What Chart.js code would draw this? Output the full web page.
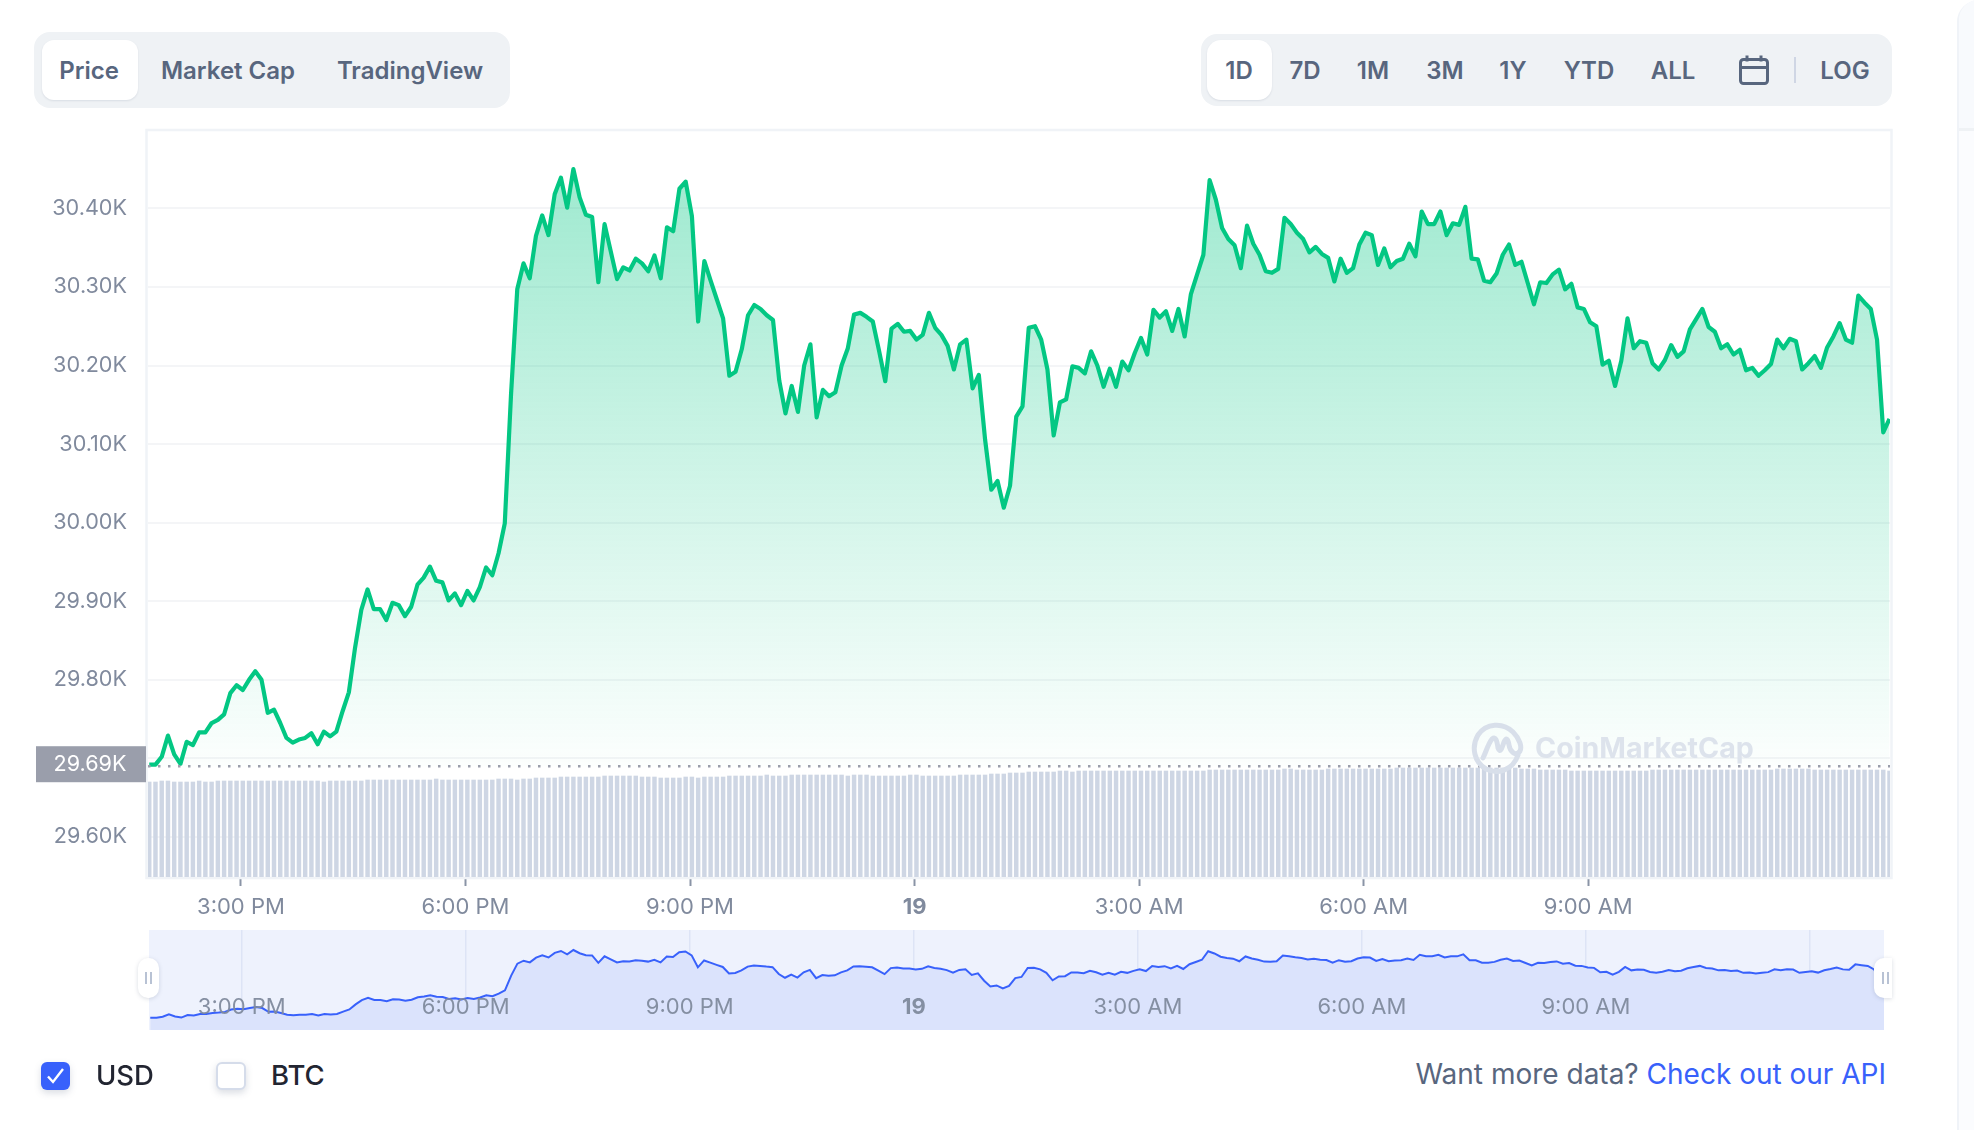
<!DOCTYPE html>
<html>
<head>
<meta charset="utf-8">
<title>Price chart</title>
<script src="https://cdn.jsdelivr.net/npm/chart.js@4.5.0/dist/chart.umd.min.js"></script>
<style>
  html, body { margin: 0; padding: 0; background: #fff; }
  body { width: 1974px; height: 1130px; position: relative; overflow: hidden; font-family: Inter, sans-serif; color: #58667e; }
  canvas { position: absolute; left: 0; display: block; }
  .abs { position: absolute; }
  .tabs { background: #eff2f5; }
  .on { background: #fff; box-shadow: 0 1px 2px rgba(88,102,126,.14); }
  .tab { position: absolute; top: 70px; transform: translate(-50%, -50%); font-size: 24px; font-weight: 600; white-space: nowrap; }
  .range { font-size: 24px; font-weight: 600; }
  .lbl { position: absolute; top: 1075px; transform: translateY(-50%); font-size: 27px; font-weight: 500; color: #222531; }
  .box { position: absolute; border-radius: 6px; box-sizing: border-box; box-shadow: 0 3px 7px rgba(88,102,126,.22); }
  .grip { position: absolute; top: 958px; height: 40px; background: #fff; box-shadow: 0 1px 4px rgba(88,102,126,.22); }
  .grip i { position: absolute; top: 14px; width: 2px; height: 12px; background: #b8c2d4; }
</style>
</head>
<body>
<div class="abs tabs" style="left:34px;top:32px;width:476px;height:76px;border-radius:16px"></div>
<div class="abs on" style="left:42px;top:40px;width:96px;height:60px;border-radius:12px"></div>
<span class="tab" style="left:89px">Price</span>
<span class="tab" style="left:228px">Market Cap</span>
<span class="tab" style="left:410px">TradingView</span>

<div class="abs tabs" style="left:1201px;top:34px;width:691px;height:72px;border-radius:16px"></div>
<div class="abs on" style="left:1207px;top:40px;width:65px;height:60px;border-radius:14px"></div>
<span class="tab range" style="left:1239px">1D</span>
<span class="tab range" style="left:1305px">7D</span>
<span class="tab range" style="left:1373px">1M</span>
<span class="tab range" style="left:1445px">3M</span>
<span class="tab range" style="left:1513px">1Y</span>
<span class="tab range" style="left:1589px">YTD</span>
<span class="tab range" style="left:1673px">ALL</span>
<svg class="abs" style="left:1738px;top:54px" width="32" height="32" viewBox="0 0 32 32" fill="none" stroke="#58667e" stroke-width="3">
  <rect x="2.5" y="5.5" width="27" height="24" rx="3"/><path d="M2.5 13.5h27M9 1.5v6M23 1.5v6"/>
</svg>
<div class="abs" style="left:1794px;top:57px;width:2px;height:26px;background:#cfd6e4"></div>
<span class="tab range" style="left:1845px">LOG</span>

<div class="abs" style="left:1957px;top:0;width:40px;height:1130px;background:#fbfcfe;border-left:2px solid #f0f3f8;border-radius:22px 0 0 0;box-sizing:border-box"></div>
<div class="abs" style="left:1959px;top:0;width:20px;height:128px;background:#f8fafd;border-bottom:3px solid #eff2f5;border-radius:22px 0 0 0"></div>

<canvas id="priceChart" width="1974" height="925" style="top:0"></canvas>
<canvas id="navChart" width="1974" height="110" style="top:925px"></canvas>

<svg class="abs" style="left:1470px;top:720px" width="56" height="56" viewBox="0 0 56 56" fill="none" stroke="#d8dfea" stroke-width="5" stroke-linecap="round" stroke-linejoin="round">
  <path d="M48 35C43 50 28 55 16 49C4 42 1 27 8 15C16 3 33 2 43 12C50 19 52 27 50 31C46 37 40 32 39 25C38 19 36 17 34 22C32 28 30 34 28 28C27 21 26 16 22 19C18 24 16 32 13 38"/>
</svg>
<span class="abs" style="left:1535px;top:747px;transform:translateY(-50%);font-size:28.6px;font-weight:700;color:#dde3ec;white-space:nowrap">CoinMarketCap</span>

<div class="grip" style="left:138px;width:21px;border-radius:10px"><i style="left:7px"></i><i style="left:12px"></i></div>
<div class="grip" style="left:1874px;width:18px;border-radius:10px 0 0 10px"><i style="left:8px"></i><i style="left:13px"></i></div>

<div class="box" style="left:41px;top:1062px;width:29px;height:28px;background:#3861fb">
  <svg width="29" height="28" viewBox="0 0 29 28" fill="none" stroke="#fff" stroke-width="2.4"><path d="M7 14.5l5 5.5 10-13"/></svg>
</div>
<span class="lbl" style="left:96px;font-size:27.5px">USD</span>
<div class="box" style="left:216px;top:1062px;width:30px;height:28px;background:#fff;border:2px solid #d5dcea"></div>
<span class="lbl" style="left:271px;font-size:27.5px">BTC</span>
<span class="abs" style="right:88px;top:1074px;transform:translateY(-50%);font-size:28px;white-space:nowrap">Want more data? <span style="color:#3861fb">Check out our API</span></span>

<script>
const prices = [
  29692,29692,29702,29729,29705,29693,29721,29717,29733,29733,
  29745,29749,29756,29783,29793,29787,29800,29811,29800,29758,
  29762,29745,29726,29720,29724,29726,29732,29718,29734,29728,
  29734,29760,29784,29841,29889,29915,29890,29890,29876,29898,
  29895,29881,29893,29921,29930,29944,29926,29924,29901,29910,
  29895,29913,29901,29918,29943,29933,29961,29999,30163,30297,
  30330,30311,30365,30391,30366,30418,30439,30401,30450,30414,
  30392,30389,30306,30380,30345,30310,30325,30321,30336,30330,
  30320,30340,30311,30376,30371,30425,30434,30390,30256,30333,
  30308,30284,30260,30187,30192,30221,30264,30277,30272,30264,
  30258,30181,30139,30174,30141,30200,30227,30134,30169,30161,
  30166,30200,30222,30265,30267,30262,30256,30219,30180,30247,
  30253,30243,30244,30233,30239,30267,30248,30239,30225,30195,
  30227,30233,30171,30188,30106,30042,30053,30019,30047,30135,
  30148,30248,30250,30233,30195,30111,30153,30157,30199,30197,
  30190,30218,30200,30173,30196,30173,30205,30194,30216,30235,
  30214,30271,30261,30269,30244,30272,30237,30291,30316,30341,
  30436,30411,30375,30361,30353,30324,30378,30355,30341,30320,
  30318,30323,30388,30380,30369,30361,30344,30351,30342,30337,
  30307,30336,30318,30324,30354,30369,30366,30328,30349,30325,
  30333,30336,30355,30339,30396,30380,30380,30396,30366,30381,
  30379,30402,30336,30335,30308,30306,30317,30341,30354,30328,
  30332,30305,30278,30306,30305,30316,30322,30297,30304,30274,
  30272,30255,30250,30201,30206,30174,30206,30260,30222,30231,
  30229,30203,30195,30207,30226,30211,30218,30246,30259,30272,
  30249,30243,30222,30227,30214,30220,30194,30197,30187,30194,
  30202,30233,30222,30234,30231,30195,30203,30212,30197,30223,
  30237,30254,30233,30229,30289,30280,30272,30233,30115,30132
]

// volume in billions, one bar per 5 min sample
const volumes = [
  19.0,19.0,19.2,19.2,19.0,19.0,19.0,19.0,19.2,19.0,19.0,19.2,19.2,19.2,19.2,19.2,19.2,19.2,19.2,19.2,
  19.2,19.2,19.2,19.2,19.2,19.2,19.2,19.2,19.0,19.2,19.2,19.2,19.2,19.2,19.2,19.4,19.4,19.4,19.4,19.4,
  19.4,19.4,19.4,19.4,19.4,19.4,19.6,19.4,19.4,19.4,19.4,19.4,19.4,19.4,19.4,19.4,19.6,19.6,19.6,19.4,
  19.6,19.6,19.8,19.8,19.8,19.8,20.0,20.0,20.0,20.0,20.0,20.0,20.0,20.2,20.2,20.2,20.2,20.2,20.2,20.0,
  20.0,20.0,19.8,19.8,19.8,19.8,20.0,20.0,19.8,20.0,20.0,20.0,20.0,20.2,20.2,20.2,20.2,20.2,20.2,20.4,
  20.2,20.2,20.2,20.4,20.4,20.4,20.4,20.4,20.4,20.4,20.4,20.4,20.2,20.4,20.4,20.4,20.2,20.2,20.2,20.2,
  20.2,20.2,20.4,20.4,20.2,20.2,20.2,20.2,20.2,20.2,20.4,20.4,20.4,20.4,20.4,20.6,20.6,20.6,20.8,20.8,
  20.8,21.0,21.0,21.0,21.0,21.0,21.2,21.2,21.0,21.2,21.2,21.2,21.2,21.2,21.2,21.2,21.2,21.2,21.2,21.2,
  21.2,21.2,21.2,21.2,21.2,21.2,21.2,21.2,21.2,21.2,21.4,21.4,21.4,21.4,21.4,21.4,21.4,21.4,21.4,21.4,
  21.4,21.4,21.6,21.6,21.4,21.4,21.4,21.4,21.4,21.6,21.6,21.6,21.6,21.6,21.6,21.6,21.6,21.6,21.6,21.6,
  21.8,21.8,21.8,21.8,21.8,21.8,21.8,21.8,21.8,21.8,21.8,21.8,21.8,21.8,21.8,21.8,21.8,21.8,21.8,21.8,
  21.6,21.6,21.6,21.4,21.4,21.4,21.4,21.4,21.2,21.2,21.2,21.2,21.2,21.2,21.2,21.2,21.2,21.2,21.2,21.2,
  21.2,21.4,21.4,21.4,21.4,21.4,21.4,21.4,21.4,21.4,21.4,21.4,21.4,21.4,21.4,21.4,21.4,21.4,21.4,21.4,
  21.4,21.6,21.6,21.6,21.6,21.6,21.6,21.4,21.4,21.4,21.4,21.4,21.4,21.4,21.4,21.4,21.4,21.4,21.4,21.2
]

const openPrice = 29690
const openLabel = "29.69K"
const yTicks = [29600,29700,29800,29900,30000,30100,30200,30300,30400]
const yTickLabels = ["29.60K","","29.80K","29.90K","30.00K","30.10K","30.20K","30.30K","30.40K"]
// minutes after the first sample
const xTicks = [73.5,253.5,433.5,613.5,793.5,973.5,1153.5]
const xTickLabels = ["3:00 PM","6:00 PM","9:00 PM","19","3:00 AM","6:00 AM","9:00 AM"]
const navTicks = [73.5,253.5,433.5,613.5,793.5,973.5,1153.5,1333.5]

const sampleMinutes = prices.map((_, i) => i * 5)
const pricePoints = prices.map((p, i) => ({ x: sampleMinutes[i], y: p }))
const volumePoints = volumes.map((v, i) => ({ x: sampleMinutes[i], y: v }))

const FONT = "Inter"
const GRAY = "#808a9d"

const frame = {
  id: "frame",
  beforeDatasetsDraw(chart) {
    const { ctx, chartArea: a } = chart
    ctx.save()
    ctx.strokeStyle = "#f0f3f7"
    ctx.lineWidth = 2.5
    ctx.strokeRect(a.left - 1.5, a.top - 1, a.width + 3, a.height + 2)
    ctx.restore()
  },
  afterDraw(chart) {
    const { ctx } = chart
    const y = chart.scales.y.getPixelForValue(openPrice) - 2
    ctx.save()
    ctx.fillStyle = "#9a9eab"
    ctx.fillRect(36, y - 18, 110, 36)
    ctx.fillStyle = "#fff"
    ctx.font = "21.6px " + FONT
    ctx.textAlign = "center"
    ctx.textBaseline = "middle"
    ctx.fillText(openLabel, 90, y)
    ctx.restore()
  }
}

const priceCtx = document.getElementById("priceChart")
const green = priceCtx.getContext("2d").createLinearGradient(0, 140, 0, 765)
green.addColorStop(0, "rgba(3,199,131,0.4)")
green.addColorStop(1, "rgba(3,199,131,0.01)")

new Chart(priceCtx, {
  data: {
    datasets: [
      {
        type: "line",
        data: pricePoints,
        borderColor: "#03c783",
        borderWidth: 4.2,
        borderJoinStyle: "round",
        pointRadius: 0,
        tension: 0,
        fill: { value: openPrice },
        backgroundColor: green,
        order: 1
      },
      {
        type: "line",
        data: [{ x: -1, y: openPrice }, { x: 1395.4, y: openPrice }],
        borderColor: "#9a9eab",
        borderWidth: 2.5,
        borderDash: [2.5, 7.5],
        pointRadius: 0,
        fill: false,
        order: 0
      },
      {
        type: "bar",
        data: volumePoints,
        yAxisID: "vol",
        backgroundColor: "#ced6e4",
        barThickness: 3.8,
        order: 2
      }
    ]
  },
  options: {
    responsive: false,
    animation: false,
    devicePixelRatio: 1,
    layout: { padding: { left: 0, right: 84, top: 131, bottom: 0 } },
    plugins: { legend: { display: false }, tooltip: { enabled: false } },
    scales: {
      x: {
        type: "linear",
        offset: false,
        min: -1,
        max: 1395.4,
        afterBuildTicks: (s) => { s.ticks = xTicks.map((v) => ({ value: v })) },
        afterFit: (s) => { s.height = 48 },
        grid: { offset: false, drawOnChartArea: false, drawTicks: true, tickLength: 9, tickColor: "#8a94a6", tickWidth: 2 },
        border: { display: false },
        ticks: {
          autoSkip: false,
          maxRotation: 0,
          padding: 8,
          color: GRAY,
          font: (c) => ({ family: FONT, size: 22, weight: c.index === 3 ? "700" : "400" }),
          callback: (v) => xTickLabels[xTicks.indexOf(v)]
        }
      },
      y: {
        min: 29549,
        max: 30498.5,
        afterBuildTicks: (s) => { s.ticks = yTicks.map((v) => ({ value: v })) },
        afterFit: (s) => { s.width = 148 },
        grid: { color: "#f4f5f7", lineWidth: 2, drawTicks: false },
        border: { display: false },
        ticks: {
          padding: 21,
          color: GRAY,
          font: { family: FONT, size: 21.6 },
          callback: (v) => yTickLabels[yTicks.indexOf(v)]
        }
      },
      vol: { display: false, min: 0, max: 149.2 }
    }
  },
  plugins: [frame]
})

const navLabels = {
  id: "navLabels",
  beforeDraw(chart) {
    const { ctx, chartArea: a } = chart
    ctx.fillStyle = "#eef2fd"
    ctx.fillRect(a.left, a.top, a.width, a.height)
  },
  afterDatasetsDraw(chart) {
    const { ctx, chartArea: a, scales } = chart
    ctx.save()
    ctx.fillStyle = "rgba(128,138,157,0.95)"
    ctx.textAlign = "center"
    ctx.textBaseline = "middle"
    xTicks.forEach((v, i) => {
      ctx.font = (i === 3 ? "700 " : "") + "22px " + FONT
      ctx.fillText(xTickLabels[i], scales.x.getPixelForValue(v), a.top + 77)
    })
    ctx.restore()
  }
}

new Chart(document.getElementById("navChart"), {
  type: "line",
  data: {
    datasets: [{
      data: pricePoints,
      borderColor: "#3861fb",
      borderWidth: 2,
      pointRadius: 0,
      fill: "start",
      backgroundColor: "#dbe3fc"
    }]
  },
  options: {
    responsive: false,
    animation: false,
    devicePixelRatio: 1,
    layout: { padding: { left: 149, right: 90, top: 5, bottom: 5 } },
    plugins: { legend: { display: false }, tooltip: { enabled: false } },
    scales: {
      x: {
        type: "linear",
        min: -1,
        max: 1393,
        afterBuildTicks: (s) => { s.ticks = navTicks.map((v) => ({ value: v })) },
        afterFit: (s) => { s.height = 0 },
        grid: { color: "#dde4f6", lineWidth: 1.5, drawTicks: false },
        border: { display: false },
        ticks: { display: false }
      },
      y: { display: false, min: 29554, max: 30674 }
    }
  },
  plugins: [navLabels]
})
</script>
</body>
</html>
